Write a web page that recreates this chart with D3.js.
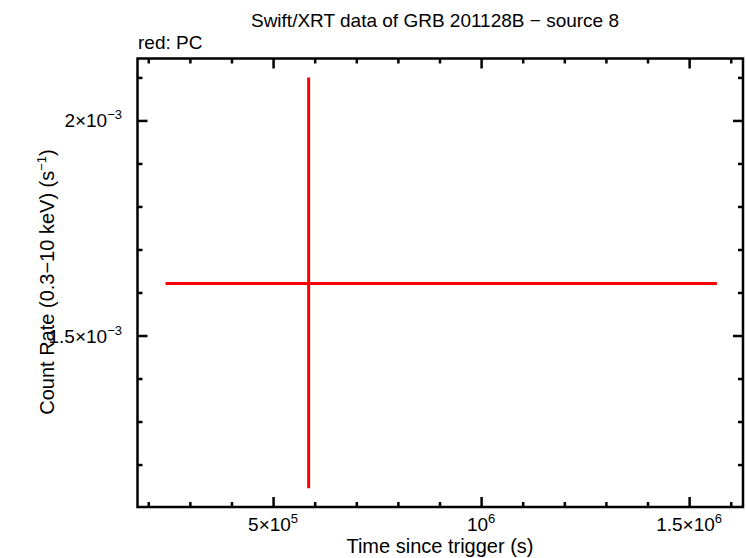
<!DOCTYPE html>
<html><head><meta charset="utf-8">
<script src="https://cdn.jsdelivr.net/npm/d3@7"></script>
<style>
body{margin:0;background:#fff;}
text{font-family:"Liberation Sans","Nimbus Sans",Arial,sans-serif;fill:#000;}
</style></head>
<body><svg id="c" width="746" height="558"></svg>
<script>
// ---- data ----
const titleText = "Swift/XRT data of GRB 201128B \u2212 source 8";
const legendText = "red: PC";
const timeCenter = [5.855e5];
const timeStart  = [2.414e5];
const timeStop   = [1.5668e6];
const rateValue  = [1.621e-3];
const rateLow    = [1.145e-3];
const rateHigh   = [2.100e-3];
const xMajorTicks = [5e5, 1e6, 1.5e6];
const xMajorMant  = ["5\u00d710", "10", "1.5\u00d710"];
const xMajorExp   = ["5", "6", "6"];
const xMinorTicks = [2e5, 3e5, 4e5, 6e5, 7e5, 8e5, 9e5, 1.1e6, 1.2e6, 1.3e6, 1.4e6, 1.6e6];
const yMajorTicks = [1.5e-3, 2e-3];
const yMajorMant  = ["1.5\u00d710", "2\u00d710"];
const yMajorExp   = ["\u22123", "\u22123"];
const yMinorTicks = [1.2e-3, 1.3e-3, 1.4e-3, 1.6e-3, 1.7e-3, 1.8e-3, 1.9e-3, 2.1e-3];

// ---- layout ----
const L = 137.5, R = 743, T = 58.5, B = 507;
const svg = d3.select("#c");
const x = d3.scaleLinear().domain([1.741e5, 1.6295e6]).range([L, R]);
const y = d3.scaleLinear().domain([1.1013e-3, 2.144e-3]).range([B, T]);

function axisG(axisFn, tr){
  const g = svg.append("g").attr("transform", tr).call(axisFn);
  g.select(".domain").remove();
  g.selectAll("line").attr("stroke","#000").attr("stroke-width",2.5);
  g.selectAll("text").remove();
  return g;
}
axisG(d3.axisBottom(x).tickValues(xMajorTicks).tickSize(-10), `translate(0,${B})`);
axisG(d3.axisBottom(x).tickValues(xMinorTicks).tickSize(-5), `translate(0,${B})`);
axisG(d3.axisTop(x).tickValues(xMajorTicks).tickSize(-10), `translate(0,${T})`);
axisG(d3.axisTop(x).tickValues(xMinorTicks).tickSize(-5), `translate(0,${T})`);
axisG(d3.axisLeft(y).tickValues(yMajorTicks).tickSize(-10), `translate(${L},0)`);
axisG(d3.axisLeft(y).tickValues(yMinorTicks).tickSize(-5), `translate(${L},0)`);
axisG(d3.axisRight(y).tickValues(yMajorTicks).tickSize(-10), `translate(${R},0)`);
axisG(d3.axisRight(y).tickValues(yMinorTicks).tickSize(-5), `translate(${R},0)`);

svg.append("rect").attr("x",L).attr("y",T).attr("width",R-L).attr("height",B-T)
  .attr("fill","none").attr("stroke","#000").attr("stroke-width",2.5);

const pts = timeCenter.map((t,i)=>({t, t0:timeStart[i], t1:timeStop[i], r:rateValue[i], r0:rateLow[i], r1:rateHigh[i]}));
const dg = svg.append("g").attr("stroke","#ff0000").attr("stroke-width",3);
dg.selectAll(".h").data(pts).join("line")
  .attr("x1",d=>x(d.t0)).attr("x2",d=>x(d.t1)).attr("y1",d=>y(d.r)).attr("y2",d=>y(d.r));
dg.selectAll(".v").data(pts).join("line")
  .attr("x1",d=>x(d.t)).attr("x2",d=>x(d.t)).attr("y1",d=>y(d.r0)).attr("y2",d=>y(d.r1));

const fs = 19, sfs = 13;
xMajorTicks.forEach((v,i)=>{
  const t = svg.append("text").attr("x",x(v)).attr("y",531).attr("text-anchor","middle").attr("font-size",fs);
  t.append("tspan").text(xMajorMant[i]);
  t.append("tspan").attr("dy",-8).attr("font-size",sfs).text(xMajorExp[i]);
});
yMajorTicks.forEach((v,i)=>{
  const t = svg.append("text").attr("x",122).attr("y",y(v)+7).attr("text-anchor","end").attr("font-size",fs);
  t.append("tspan").text(yMajorMant[i]);
  t.append("tspan").attr("dy",-8).attr("font-size",sfs).text(yMajorExp[i]);
});

svg.append("text").attr("x",435).attr("y",27).attr("text-anchor","middle").attr("font-size",fs).text(titleText);
svg.append("text").attr("x",138).attr("y",49).attr("font-size",fs).text(legendText);
svg.append("text").attr("x",440).attr("y",553).attr("text-anchor","middle").attr("font-size",fs+1).text("Time since trigger (s)");
const yt = svg.append("text").attr("transform","translate(54,282) rotate(-90)").attr("text-anchor","middle").attr("font-size",fs+1);
yt.append("tspan").text("Count Rate (0.3\u221210 keV) (s");
yt.append("tspan").attr("dy",-8).attr("font-size",sfs).text("\u22121");
yt.append("tspan").attr("dy",8).text(")");
</script></body></html>
